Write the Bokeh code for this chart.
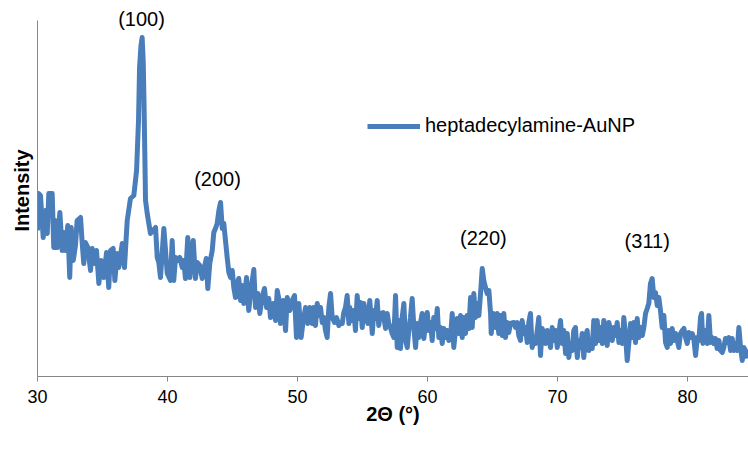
from bokeh.plotting import figure
from bokeh.models import Label, Legend, LegendItem, FixedTicker, Range1d
from bokeh.embed import file_html
from bokeh.resources import INLINE

# ---- data ----
two_theta = [
    30.00, 30.08, 30.23, 30.44, 30.62, 30.75, 30.87, 31.13, 31.25, 31.38, 31.52, 31.72, 31.90, 32.02,
    32.15, 32.33, 32.48, 32.59, 32.75, 32.92, 33.05, 33.31, 33.44, 33.56, 33.69, 33.87, 34.08, 34.21,
    34.38, 34.54, 34.72, 34.90, 35.10, 35.31, 35.48, 35.62, 35.82, 35.95, 36.13, 36.25, 36.52, 36.69,
    36.90, 37.15, 37.41, 37.62, 37.77, 37.85, 37.96, 38.05, 38.13, 38.19, 38.25, 38.31, 38.44, 38.69,
    39.08, 39.21, 39.33, 39.46, 39.72, 39.85, 39.98, 40.23, 40.36, 40.48, 40.62, 40.79, 40.95, 41.13,
    41.25, 41.38, 41.56, 41.72, 41.82, 41.98, 42.15, 42.28, 42.48, 42.67, 42.79, 42.98, 43.10, 43.25,
    43.44, 43.56, 43.69, 43.82, 43.95, 44.08, 44.21, 44.33, 44.46, 44.59, 44.72, 44.85, 44.98, 45.10,
    45.23, 45.36, 45.48, 45.62, 45.75, 45.87, 46.08, 46.25, 46.44, 46.64, 46.77, 46.95, 47.10, 47.28,
    47.46, 47.62, 47.79, 47.92, 48.13, 48.31, 48.44, 48.56, 48.69, 48.90, 49.08, 49.21, 49.41, 49.59,
    49.77, 49.92, 50.10, 50.28, 50.44, 50.62, 50.79, 50.95, 51.00, 51.13, 51.25, 51.38, 51.52, 51.64,
    51.77, 51.90, 52.02, 52.15, 52.28, 52.41, 52.54, 52.67, 52.85, 53.00, 53.18, 53.31, 53.44, 53.56,
    53.69, 53.82, 53.95, 54.02, 54.21, 54.33, 54.46, 54.59, 54.72, 54.85, 54.98, 55.10, 55.23, 55.41,
    55.56, 55.75, 55.87, 56.00, 56.13, 56.25, 56.38, 56.59, 56.77, 56.90, 57.02, 57.15, 57.28, 57.41,
    57.54, 57.67, 57.79, 57.92, 58.05, 58.18, 58.31, 58.44, 58.56, 58.69, 58.82, 58.95, 59.08, 59.21,
    59.33, 59.46, 59.59, 59.72, 59.85, 59.98, 60.10, 60.23, 60.36, 60.48, 60.62, 60.75, 60.87, 61.00,
    61.13, 61.25, 61.38, 61.52, 61.64, 61.77, 61.90, 62.02, 62.15, 62.28, 62.41, 62.54, 62.67, 62.79,
    62.92, 63.05, 63.18, 63.31, 63.44, 63.56, 63.69, 63.82, 63.95, 64.08, 64.21, 64.33, 64.46, 64.59,
    64.72, 64.85, 64.90, 65.05, 65.23, 65.36, 65.48, 65.62, 65.75, 65.87, 66.00, 66.13, 66.25, 66.38,
    66.64, 66.77, 66.90, 67.02, 67.15, 67.28, 67.41, 67.54, 67.67, 67.79, 67.92, 68.05, 68.18, 68.31,
    68.44, 68.56, 68.69, 68.82, 68.95, 69.08, 69.21, 69.33, 69.46, 69.59, 69.72, 69.85, 69.98, 70.10,
    70.23, 70.36, 70.48, 70.62, 70.75, 70.87, 71.00, 71.13, 71.25, 71.38, 71.52, 71.64, 71.77, 71.90,
    72.02, 72.15, 72.28, 72.41, 72.54, 72.67, 72.79, 72.92, 73.05, 73.18, 73.31, 73.44, 73.56, 73.69,
    73.82, 73.95, 74.08, 74.21, 74.33, 74.46, 74.59, 74.72, 74.85, 74.98, 75.10, 75.23, 75.36, 75.48,
    75.62, 75.75, 75.87, 76.00, 76.13, 76.25, 76.38, 76.52, 76.64, 76.77, 76.90, 77.02, 77.15, 77.28,
    77.41, 77.54, 77.67, 77.79, 77.92, 78.05, 78.18, 78.31, 78.44, 78.56, 78.69, 78.82, 78.95, 79.08,
    79.21, 79.33, 79.46, 79.59, 79.72, 79.85, 79.98, 80.10, 80.23, 80.36, 80.48, 80.62, 80.75, 80.87,
    81.00, 81.08, 81.18, 81.33, 81.52, 81.64, 81.77, 81.90, 82.02, 82.15, 82.28, 82.41, 82.54, 82.67,
    82.79, 82.92, 83.05, 83.18, 83.31, 83.44, 83.56, 83.69, 83.82, 83.95, 84.08, 84.21, 84.33, 84.46,
    84.59,
]
intensity = [
    146, 183, 181, 139, 166, 143, 183, 183, 129, 156, 129, 164, 126, 144,
    126, 151, 99, 149, 116, 131, 156, 159, 133, 113, 134, 129, 106, 128,
    113, 126, 93, 116, 99, 124, 89, 126, 128, 96, 123, 109, 133, 109,
    156, 178, 181, 206, 256, 309, 331, 339, 316, 276, 226, 176, 163, 143,
    149, 119, 114, 99, 148, 126, 103, 96, 136, 96, 119, 116, 119, 109,
    116, 98, 139, 99, 116, 136, 98, 114, 111, 98, 106, 118, 88, 113,
    126, 144, 148, 153, 166, 174, 148, 153, 136, 119, 104, 99, 106, 89,
    79, 93, 98, 76, 91, 73, 99, 66, 89, 107, 69, 83, 63, 79,
    88, 69, 78, 59, 73, 56, 86, 78, 53, 76, 46, 79, 66, 76,
    81, 39, 73, 39, 56, 69, 53, 69, 63, 53, 69, 51, 73, 61,
    69, 54, 59, 46, 39, 69, 83, 59, 54, 59, 51, 54, 53, 64,
    69, 81, 53, 69, 56, 66, 46, 81, 58, 74, 49, 73, 64, 53,
    76, 43, 66, 58, 76, 51, 63, 64, 48, 63, 53, 49, 43, 39,
    81, 29, 56, 28, 59, 73, 36, 29, 46, 59, 78, 49, 29, 53,
    39, 54, 63, 38, 53, 64, 46, 54, 36, 59, 48, 68, 39, 49,
    33, 48, 39, 46, 36, 39, 63, 29, 46, 58, 43, 61, 39, 59,
    43, 61, 48, 79, 49, 83, 59, 73, 61, 83, 108, 96, 89, 83,
    86, 63, 43, 63, 49, 63, 43, 61, 41, 63, 39, 54, 44, 53,
    54, 49, 54, 41, 36, 56, 43, 49, 34, 54, 63, 29, 39, 33,
    46, 59, 21, 48, 43, 33, 46, 39, 29, 49, 36, 46, 29, 43,
    56, 33, 46, 23, 43, 19, 33, 26, 46, 49, 19, 36, 29, 43,
    19, 39, 46, 26, 36, 28, 56, 33, 56, 36, 49, 33, 56, 46,
    31, 54, 46, 36, 49, 41, 54, 34, 46, 33, 59, 41, 16, 33,
    53, 39, 54, 34, 58, 39, 49, 41, 49, 63, 68, 73, 93, 98,
    79, 84, 71, 79, 66, 49, 61, 34, 29, 46, 33, 48, 36, 43,
    36, 29, 43, 46, 48, 39, 33, 44, 39, 43, 38, 21, 39, 36,
    59, 63, 33, 46, 33, 61, 34, 39, 33, 38, 28, 36, 26, 24,
    29, 38, 34, 39, 26, 38, 26, 33, 26, 49, 29, 16, 29, 26,
    18,
]
series_name = "heptadecylamine-AuNP"
x_ticks = [30, 40, 50, 60, 70, 80]
y_axis_top = 356
peak_labels = ["(100)", "(200)", "(220)", "(311)"]
peak_label_x = [38.0, 43.85, 64.3, 76.9]
peak_label_y = [358, 198, 139, 136]

FONT = "Liberation Sans"
LINE_COLOR = "#4A7EBB"
AXIS_COLOR = "#868686"

p = figure(
    width=748, height=449,
    x_range=Range1d(30, 84.69), y_range=Range1d(0, 372),
    output_backend="svg", toolbar_location=None,
    min_border_left=37, min_border_right=0, min_border_top=4, min_border_bottom=73,
)
p.outline_line_color = None
p.grid.visible = False
p.background_fill_color = "white"

r = p.line(two_theta, intensity, line_color=LINE_COLOR, line_width=5, line_join="round")

# x axis
p.xaxis.ticker = FixedTicker(ticks=x_ticks)
p.xaxis.minor_tick_line_color = None
p.xaxis.major_tick_in = 0
p.xaxis.major_tick_out = 5
p.xaxis.axis_line_color = AXIS_COLOR
p.xaxis.major_tick_line_color = AXIS_COLOR
p.xaxis.major_label_text_font = FONT
p.xaxis.major_label_text_font_size = "18px"
p.xaxis.major_label_text_color = "#000000"
p.xaxis.major_label_standoff = 8
p.xaxis.axis_label = "2Θ (°)"
p.xaxis.axis_label_text_font = FONT
p.xaxis.axis_label_text_font_style = "bold"
p.xaxis.axis_label_text_font_size = "20px"
p.xaxis.axis_label_text_color = "#000000"
p.xaxis.axis_label_standoff = -3

# y axis
p.yaxis.ticker = FixedTicker(ticks=[])
p.yaxis.bounds = (0, y_axis_top)
p.yaxis.minor_tick_line_color = None
p.yaxis.major_tick_line_color = None
p.yaxis.axis_line_color = AXIS_COLOR
p.yaxis.axis_label = "Intensity"
p.yaxis.axis_label_text_font = FONT
p.yaxis.axis_label_text_font_style = "bold"
p.yaxis.axis_label_text_font_size = "20px"
p.yaxis.axis_label_text_color = "#000000"
p.yaxis.axis_label_standoff = 5

legend = Legend(
    items=[LegendItem(label=series_name, renderers=[r])],
    location=(330, 239), border_line_color=None, background_fill_alpha=0,
    padding=0, margin=0, glyph_width=53, glyph_height=20, label_standoff=5,
    label_text_font=FONT, label_text_font_size="20px", label_text_color="#000000",
)
p.add_layout(legend)

for t, x, y in zip(peak_labels, peak_label_x, peak_label_y):
    p.add_layout(Label(x=x, y=y, text=t, text_align="center", text_baseline="middle",
                       text_font=FONT, text_font_size="20px", text_color="#000000"))

open("out.html", "w").write(file_html(p, INLINE))
